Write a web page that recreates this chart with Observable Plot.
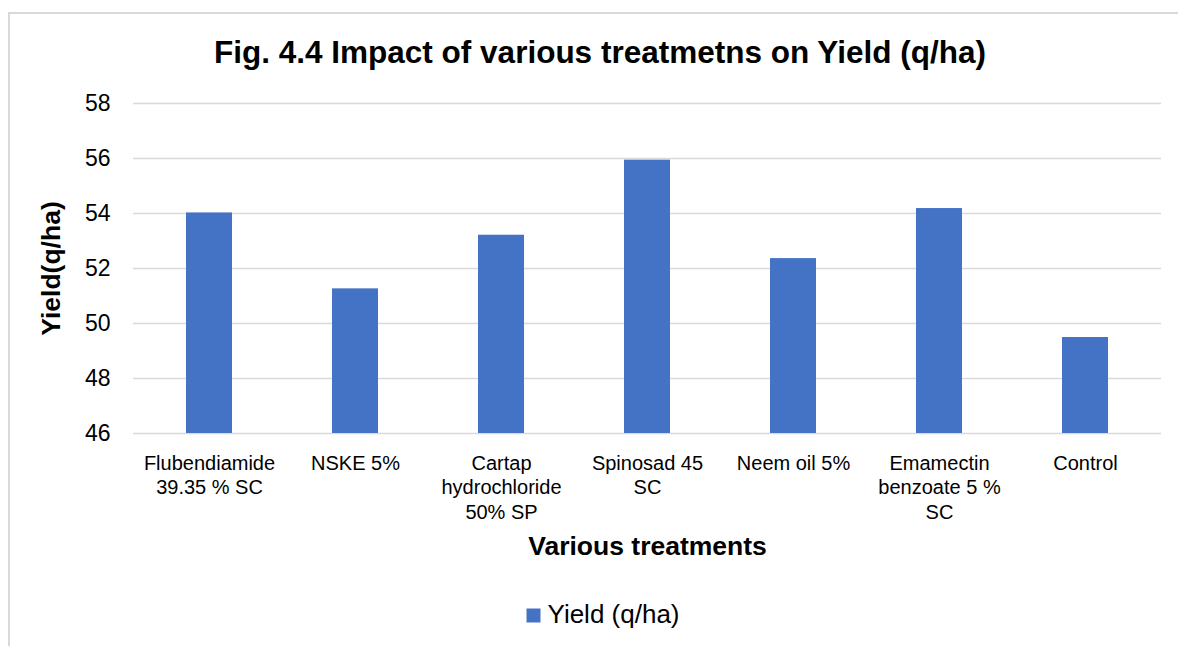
<!DOCTYPE html>
<html>
<head>
<meta charset="utf-8">
<script src="https://cdn.jsdelivr.net/npm/d3@7"></script>
<script src="https://cdn.jsdelivr.net/npm/@observablehq/plot@0.6"></script>
<style>
  html, body { margin: 0; padding: 0; background: #fff; overflow: hidden; }
  #wrap { position: relative; width: 1178px; height: 646px; }
  #frame { position: absolute; left: 8px; top: 12px; width: 1300px; height: 800px;
           border-left: 2px solid #d9d9d9; border-top: 2px solid #d9d9d9; box-sizing: border-box; }
  #chart { position: absolute; left: 0; top: 0; }
</style>
</head>
<body>
<div id="wrap"><div id="frame"></div><div id="chart"></div></div>
<script>
const categories = ["Flubendiamide 39.35 % SC", "NSKE 5%", "Cartap hydrochloride 50% SP", "Spinosad 45 SC", "Neem oil 5%", "Emamectin benzoate 5 % SC", "Control"];
const tickLabels = ["Flubendiamide\n39.35 % SC", "NSKE 5%", "Cartap\nhydrochloride\n50% SP", "Spinosad 45\nSC", "Neem oil 5%", "Emamectin\nbenzoate 5 %\nSC", "Control"];
const yields = [54.02, 51.26, 53.21, 55.94, 52.36, 54.18, 49.49];
const yTicks = [46, 48, 50, 52, 54, 56, 58];
const yMin = 46, yMax = 58;
const titleText = "Fig. 4.4 Impact of various treatmetns on Yield (q/ha)";
const xTitle = "Various treatments";
const yTitle = "Yield(q/ha)";
const seriesName = "Yield (q/ha)";
const barColor = "#4472C4";

const data = categories.map((c, i) => ({treatment: c, yield: yields[i]}));

const chart = Plot.plot({
  width: 1178,
  height: 646,
  marginLeft: 133,
  marginRight: 17,
  marginTop: 103,
  marginBottom: 213,
  style: {fontFamily: "'Liberation Sans', Arial, sans-serif", color: "#000", background: "transparent", overflow: "visible"},
  x: {domain: categories, paddingInner: 0.687, paddingOuter: 0.3435, label: null},
  y: {domain: [yMin, yMax], label: null},
  marks: [
    Plot.gridY(yTicks, {stroke: "#d9d9d9", strokeOpacity: 1, strokeWidth: 1.5}),
    Plot.barY(data, {x: "treatment", y1: yMin, y2: "yield", fill: barColor}),
    Plot.axisY(yTicks, {tickSize: 0, tickPadding: 23, fontSize: 23, label: null}),
    Plot.axisX({tickSize: 0, tickPadding: 19, fontSize: 20, lineHeight: 1.225, label: null,
                tickFormat: d => tickLabels[categories.indexOf(d)]}),
    Plot.text([titleText], {text: d => d, frameAnchor: "top", dx: -47.5, dy: -41, lineAnchor: "bottom", fontSize: 31.5, fontWeight: "bold"}),
    Plot.text([xTitle], {text: d => d, frameAnchor: "bottom", dy: 121, lineAnchor: "bottom", fontSize: 26.5, fontWeight: "bold"}),
    Plot.text([yTitle], {text: d => d, frameAnchor: "left", dx: -82, rotate: -90, textAnchor: "middle", lineAnchor: "middle", fontSize: 26.5, fontWeight: "bold"}),
    Plot.dot([seriesName], {frameAnchor: "bottom", dx: -114, dy: 182, symbol: "square", r: 7.9, fill: barColor, stroke: null}),
    Plot.text([seriesName], {text: d => d, frameAnchor: "bottom", dx: -100, dy: 189, lineAnchor: "bottom", textAnchor: "start", fontSize: 26})
  ]
});
document.getElementById("chart").appendChild(chart);
</script>
</body>
</html>
